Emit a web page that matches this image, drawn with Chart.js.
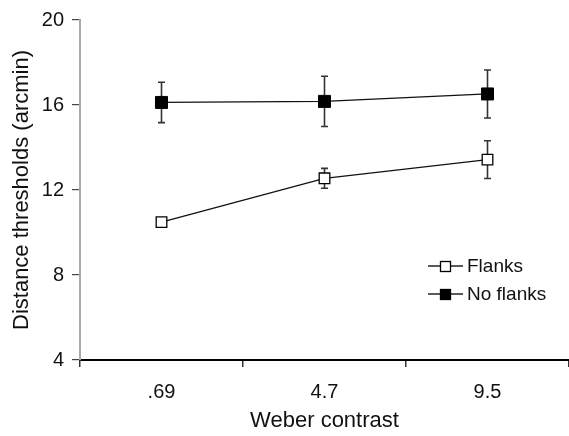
<!DOCTYPE html>
<html>
<head>
<meta charset="utf-8">
<script src="https://cdn.jsdelivr.net/npm/chart.js@4"></script>
<style>
  html, body { margin: 0; padding: 0; background: #fff; }
  #wrap { width: 569px; height: 436px; }
</style>
</head>
<body>
<div id="wrap"><canvas id="lineChart" width="569" height="436"></canvas></div>
<script>
// data
const contrasts = [".69", "4.7", "9.5"];
const flanks = [10.49, 12.55, 13.43];
const flanksErr = [0.2, 0.47, 0.89];
const noFlanks = [16.12, 16.17, 16.52];
const noFlanksErr = [0.95, 1.18, 1.13];
const yTicks = [4, 8, 12, 16, 20];

const errors = [flanksErr, noFlanksErr];
const font = "'Liberation Sans', Arial, Helvetica, sans-serif";

// vertical error bars, drawn through the scales
const errorBars = {
  id: "errorBars",
  beforeDatasetsDraw(chart) {
    const ctx = chart.ctx;
    const x = chart.scales.x, y = chart.scales.y;
    ctx.save();
    ctx.strokeStyle = "#333";
    ctx.lineWidth = 1.6;
    chart.data.datasets.forEach((ds, i) => {
      ds.data.forEach((v, j) => {
        const px = x.getPixelForValue(j);
        const top = y.getPixelForValue(v + errors[i][j]);
        const bot = y.getPixelForValue(v - errors[i][j]);
        ctx.beginPath();
        ctx.moveTo(px, top); ctx.lineTo(px, bot);
        ctx.moveTo(px - 3.5, top); ctx.lineTo(px + 3.5, top);
        ctx.moveTo(px - 3.5, bot); ctx.lineTo(px + 3.5, bot);
        ctx.stroke();
      });
    });
    ctx.restore();
  }
};

// legend in the lower right, line with a square in the middle
const boxLegend = {
  id: "boxLegend",
  afterDraw(chart) {
    const ctx = chart.ctx;
    ctx.save();
    ctx.font = "19px " + font;
    ctx.textBaseline = "middle";
    chart.data.datasets.forEach((ds, i) => {
      const yy = 266 + i * 28;
      ctx.strokeStyle = "#222";
      ctx.lineWidth = 1.3;
      ctx.beginPath();
      ctx.moveTo(428, yy); ctx.lineTo(463, yy);
      ctx.stroke();
      ctx.fillStyle = ds.pointBackgroundColor;
      ctx.fillRect(440, yy - 5, 11, 11);
      ctx.strokeStyle = "#000";
      ctx.strokeRect(440.5, yy - 4.5, 10, 10);
      ctx.fillStyle = "#111";
      ctx.fillText(ds.label, 467, yy + 1);
    });
    ctx.restore();
  }
};

new Chart(document.getElementById("lineChart"), {
  type: "line",
  data: {
    labels: contrasts,
    datasets: [
      {
        label: "Flanks",
        data: flanks,
        borderColor: "#111",
        borderWidth: 1.3,
        pointStyle: "rect",
        pointRadius: 7.5,
        pointBorderWidth: 1.3,
        pointBorderColor: "#000",
        pointBackgroundColor: "#fff"
      },
      {
        label: "No flanks",
        data: noFlanks,
        borderColor: "#111",
        borderWidth: 1.3,
        pointStyle: "rect",
        pointRadius: 8.5,
        pointBorderWidth: 1,
        pointBorderColor: "#000",
        pointBackgroundColor: "#000"
      }
    ]
  },
  options: {
    responsive: false,
    animation: false,
    layout: { autoPadding: false, padding: { top: 19, right: 0, left: 0, bottom: 0 } },
    plugins: { legend: { display: false }, tooltip: { enabled: false } },
    scales: {
      x: {
        offset: true,
        grid: { offset: true, drawOnChartArea: false, tickLength: 7, color: "#333", lineWidth: 1.5 },
        border: { color: "#000", width: 2 },
        ticks: { color: "#111", font: { family: font, size: 20 }, padding: 13 },
        title: { display: true, text: "Weber contrast", color: "#111", font: { family: font, size: 22 }, padding: { top: 0, bottom: 2 } },
        afterFit: (s) => { s.height = 76; }
      },
      y: {
        min: 4,
        max: 20,
        afterBuildTicks: (s) => { s.ticks = yTicks.map((v) => ({ value: v })); },
        grid: { drawOnChartArea: false, tickLength: 8, color: "#444", lineWidth: 1.2 },
        border: { color: "#aaa", width: 2 },
        ticks: { color: "#111", font: { family: font, size: 20 }, padding: 8 },
        title: { display: true, text: "Distance thresholds (arcmin)", color: "#111", font: { family: font, size: 22 }, padding: { top: 9, bottom: 0 } },
        afterFit: (s) => { s.width = 80; }
      }
    }
  },
  plugins: [errorBars, boxLegend]
});
</script>
</body>
</html>
